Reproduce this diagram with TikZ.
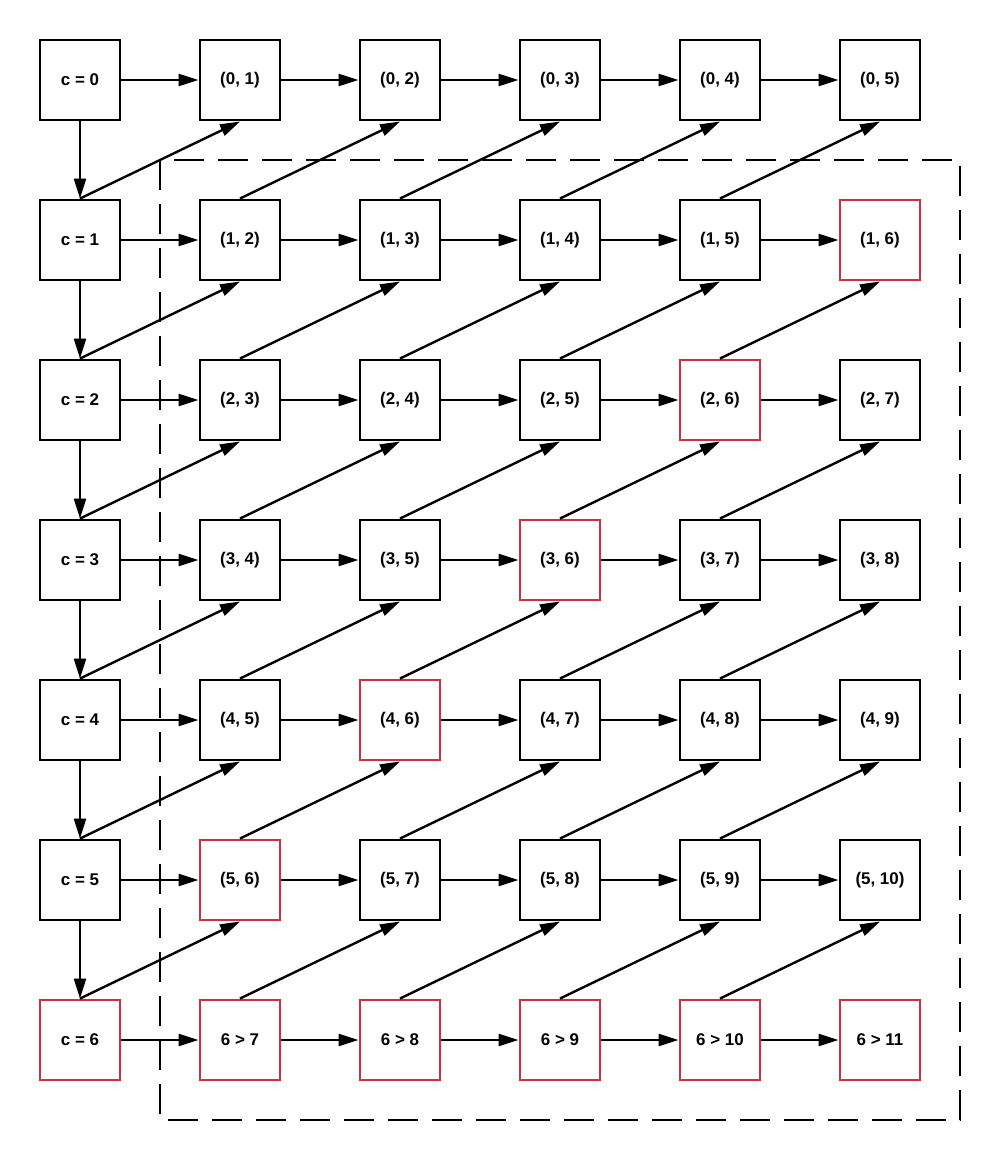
\documentclass[tikz,border=0pt]{standalone}
\usepackage{fontspec}
\setmainfont{Liberation Sans}
\usetikzlibrary{arrows.meta}
\definecolor{rouge}{RGB}{200,50,62}
\begin{document}
\begin{tikzpicture}[x=0.75pt,y=-0.75pt,
		box/.style={draw, line width=2.2pt, minimum size=60pt, inner sep=0pt,
			font=\fontsize{12.7pt}{15pt}\selectfont\bfseries},
		link/.style={line width=1.8pt, -{Triangle[length=15pt,width=9pt]}}]
		
		% Cadre de la page
		\useasboundingbox (0,0) rectangle (1000,1160);
		
		% Zone en pointillés
		\draw[line width=2.2pt, dash pattern=on 22.5pt off 10.5pt] (160,160) rectangle (960,1120);
		
		% Cases de la grille
		\foreach \r in {0,...,6} {
			\foreach \k in {0,...,5} {
				\pgfmathtruncatemacro\s{\r+\k}
				\ifnum\k=0 \edef\lab{c = \r}\else
				\ifnum\r=6 \edef\lab{6 > \s}\else \edef\lab{(\r, \s)}\fi\fi
				\ifnum\s=6 \def\col{rouge}\else
				\ifnum\r=6 \def\col{rouge}\else \def\col{black}\fi\fi
				\node[box, draw=\col] (n-\r-\k) at (80+160*\k,80+160*\r) {\lab};
			}
		}
		
		% Flèches horizontales
		\foreach \r in {0,...,6} {
			\foreach \k in {0,...,4} {
				\pgfmathtruncatemacro\kk{\k+1}
				\draw[link] (n-\r-\k) -- (n-\r-\kk);
			}
		}
		
		% Flèches verticales
		\foreach \r in {0,...,5} {
			\pgfmathtruncatemacro\rr{\r+1}
			\draw[link] (n-\r-0) -- (n-\rr-0);
		}
		
		% Flèches diagonales
		\foreach \r in {1,...,6} {
			\foreach \k in {0,...,4} {
				\pgfmathtruncatemacro\kk{\k+1}
				\pgfmathtruncatemacro\rp{\r-1}
				\draw[link] (n-\r-\k.north) -- (n-\rp-\kk.south);
			}
		}
		
	\end{tikzpicture}
\end{document}
